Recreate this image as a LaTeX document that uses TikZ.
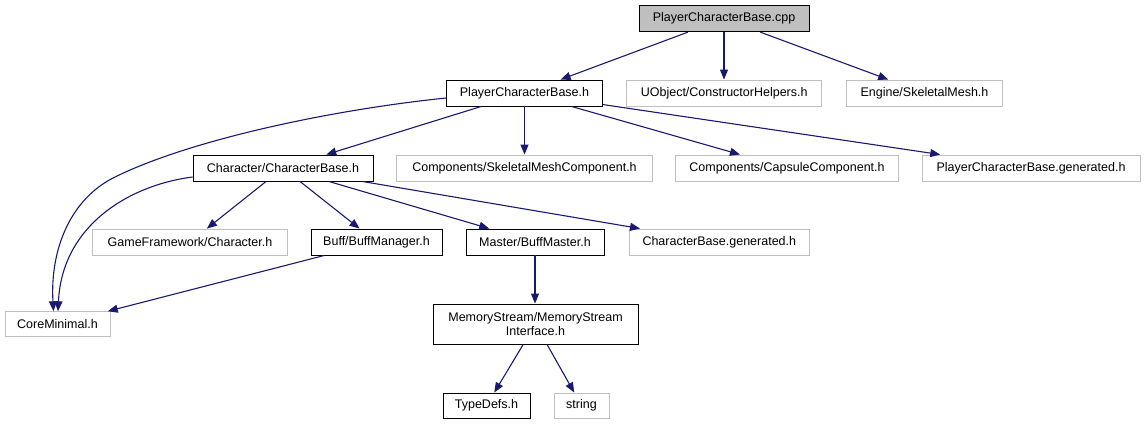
\documentclass[tikz,border=0pt]{standalone}
\usepackage{fontspec}
\setmainfont{Liberation Sans}
\usetikzlibrary{arrows.meta}
\definecolor{EdgeBlue}{HTML}{191970}
\definecolor{ExtGray}{HTML}{BFBFBF}

\begin{document}
\begin{tikzpicture}[
    x=1pt, y=-1pt,
    font=\fontsize{12.5}{14.5}\selectfont,
    filebox/.style={draw=black, line width=0.9pt, minimum height=26pt, inner sep=0pt, align=center},
    extbox/.style={filebox, draw=ExtGray},
    curbox/.style={filebox, fill=ExtGray},
    dep/.style={-{Triangle[length=10pt, width=8pt]}, line width=1.1pt, EdgeBlue},
]
\useasboundingbox (0,0) rectangle (1145,425);

% --- archivo raiz ---
\node[curbox, minimum width=170pt] (cpp) at (724,18.7) {PlayerCharacterBase.cpp};

% --- segundo nivel ---
\node[filebox, minimum width=156pt] (pcbh)   at (524.5,93) {PlayerCharacterBase.h};
\node[extbox,  minimum width=195pt] (ctor)   at (724.2,93) {UObject/ConstructorHelpers.h};
\node[extbox,  minimum width=156pt] (skmesh) at (924.5,93) {Engine/SkeletalMesh.h};

% --- tercer nivel ---
\node[filebox, minimum width=180pt] (charbase) at (283,168)   {Character/CharacterBase.h};
\node[extbox,  minimum width=256pt] (skmc)     at (524.5,168) {Components/SkeletalMeshComponent.h};
\node[extbox,  minimum width=223pt] (capsule)  at (787,168)   {Components/CapsuleComponent.h};
\node[extbox,  minimum width=218pt] (pcbgen)   at (1031,168)  {PlayerCharacterBase.generated.h};

% --- cuarto nivel ---
\node[extbox,  minimum width=195pt] (gfchar)     at (190,242)   {GameFramework/Character.h};
\node[filebox, minimum width=131pt] (buffmgr)    at (376.5,242) {Buff/BuffManager.h};
\node[filebox, minimum width=138pt] (buffmaster) at (535,242)   {Master/BuffMaster.h};
\node[extbox,  minimum width=180pt] (cbgen)      at (719.3,242) {CharacterBase.generated.h};

% --- niveles inferiores ---
\node[extbox,  minimum width=105pt, minimum height=25pt] (coremin) at (57.5,324.2) {CoreMinimal.h};
\node[filebox, minimum width=205pt, minimum height=40pt] (memstream) at (535.5,324)
    {MemoryStream/MemoryStream\\Interface.h};
\node[filebox, minimum width=87pt, minimum height=25pt] (typedefs) at (486.5,405.5) {TypeDefs.h};
\node[extbox,  minimum width=55pt, minimum height=25pt] (string)   at (581.5,405.5) {string};

% --- dependencias ---
\draw[dep] (cpp) -- (pcbh);
\draw[dep] (cpp.south) -- (cpp.south |- ctor.north);
\draw[dep] (cpp) -- (skmesh);

\draw[dep] (pcbh) -- (charbase);
\draw[dep] (pcbh.south) -- (pcbh.south |- skmc.north);
\draw[dep] (pcbh) -- (capsule);
\draw[dep] (pcbh) -- (pcbgen);
\draw[dep] ([yshift=-5pt]pcbh.west) .. controls (330,110) and (190,140) .. (115,177)
    .. controls (70,199) and (50,250) .. ([xshift=-4pt]coremin.north);

\draw[dep] ([yshift=-9pt]charbase.west) .. controls (130,185) and (62,225) .. ([xshift=0.5pt]coremin.north);
\draw[dep] (charbase) -- (gfchar);
\draw[dep] (charbase) -- (buffmgr);
\draw[dep] (charbase) -- (buffmaster);
\draw[dep] (charbase) -- (cbgen);

\draw[dep] (buffmgr) -- (coremin);
\draw[dep] (buffmaster.south) -- (buffmaster.south |- memstream.north);
\draw[dep] (memstream) -- (typedefs);
\draw[dep] (memstream) -- (string);

\end{tikzpicture}
\end{document}
